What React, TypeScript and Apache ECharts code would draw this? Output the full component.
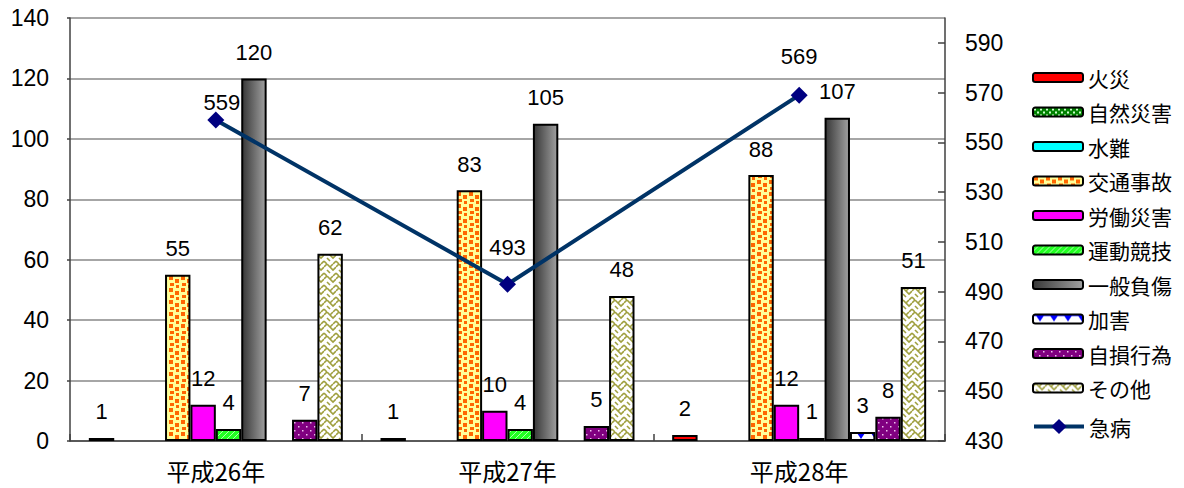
import React, { useEffect, useRef } from 'react';
import * as echarts from 'echarts';

// ---- data ----
const categories = ['平成26年', '平成27年', '平成28年'];
const kasai = [1, 1, 2];          // 火災
const shizen = [0, 0, 0];         // 自然災害
const suinan = [0, 0, 0];         // 水難
const koutsu = [55, 83, 88];      // 交通事故
const roudou = [12, 10, 12];      // 労働災害
const undou = [4, 4, 1];          // 運動競技
const ippan = [120, 105, 107];    // 一般負傷
const kagai = [0, 0, 3];          // 加害
const jison = [7, 5, 8];          // 自損行為
const sonota = [62, 48, 51];      // その他
const kyubyo = [559, 493, 569];   // 急病 (right axis)

const leftMin = 0;
const leftMax = 140;
const leftStep = 20;
const rightMin = 430;
const rightMax = 600;
const rightStep = 20;

const FONT = "'Liberation Sans', Arial, 'Noto Sans CJK JP', sans-serif";
const CJK = "'Noto Sans CJK JP', 'Liberation Sans', sans-serif";

function tile(w: number, h: number, draw: (ctx: CanvasRenderingContext2D) => void) {
  const c = document.createElement('canvas');
  c.width = w;
  c.height = h;
  const ctx = c.getContext('2d') as CanvasRenderingContext2D;
  draw(ctx);
  return { image: c, repeat: 'repeat', imageWidth: w, imageHeight: h } as any;
}

export default function App() {
  const ref = useRef<HTMLDivElement>(null);

  useEffect(() => {
    if (!ref.current) return;
    const chart = echarts.init(ref.current, undefined, { renderer: 'svg' });

    const confetti = tile(12, 12, (ctx) => {
      ctx.fillStyle = '#FFFF99';
      ctx.fillRect(0, 0, 12, 12);
      ctx.fillStyle = '#FF6600';
      ctx.fillRect(1, 0, 4, 4);
      ctx.fillRect(7, 3, 4, 4);
      ctx.fillRect(2, 7, 4, 3);
      ctx.fillRect(8, 9, 3, 3);
    });
    const checker = tile(6, 6, (ctx) => {
      ctx.fillStyle = '#008000';
      ctx.fillRect(0, 0, 6, 6);
      ctx.fillStyle = '#CCFFCC';
      ctx.fillRect(1, 1, 2, 2);
      ctx.fillRect(4, 4, 2, 2);
    });
    const stripes = tile(6, 6, (ctx) => {
      ctx.fillStyle = '#22FF22';
      ctx.fillRect(0, 0, 6, 6);
      ctx.strokeStyle = '#AAFFAA';
      ctx.lineWidth = 1;
      ctx.beginPath();
      ctx.moveTo(0, 6); ctx.lineTo(6, 0);
      ctx.moveTo(-3, 3); ctx.lineTo(3, -3);
      ctx.moveTo(3, 9); ctx.lineTo(9, 3);
      ctx.stroke();
    });
    const dots = tile(8, 8, (ctx) => {
      ctx.fillStyle = '#800080';
      ctx.fillRect(0, 0, 8, 8);
      ctx.fillStyle = '#F0C0F0';
      ctx.fillRect(2, 2, 1.5, 1.5);
      ctx.fillRect(6, 6, 1.5, 1.5);
    });
    const weave = tile(12, 12, (ctx) => {
      ctx.fillStyle = '#FFFFFF';
      ctx.fillRect(0, 0, 12, 12);
      ctx.strokeStyle = '#A0A040';
      ctx.lineWidth = 1.6;
      ctx.beginPath();
      ctx.moveTo(0, 3); ctx.lineTo(3, 0); ctx.lineTo(9, 6); ctx.lineTo(12, 3);
      ctx.moveTo(0, 9); ctx.lineTo(3, 12);
      ctx.moveTo(9, 12); ctx.lineTo(12, 9);
      ctx.moveTo(3, 6); ctx.lineTo(6, 9);
      ctx.moveTo(6, 3); ctx.lineTo(9, 0);
      ctx.stroke();
    });
    const scallop = tile(14, 9, (ctx) => {
      ctx.fillStyle = '#FFFFFF';
      ctx.fillRect(0, 0, 14, 9);
      ctx.fillStyle = '#0000FF';
      ctx.fillRect(0, 0, 14, 1.5);
      ctx.beginPath();
      ctx.moveTo(3, 1); ctx.lineTo(11, 1); ctx.lineTo(7, 7); ctx.closePath();
      ctx.fill();
    });
    const grayGrad = new echarts.graphic.LinearGradient(0, 0, 1, 0, [
      { offset: 0, color: '#383838' },
      { offset: 1, color: '#a0a0a0' },
    ]);

    const barDefs: { name: string; values: number[]; color: any }[] = [
      { name: '火災', values: kasai, color: '#FF0000' },
      { name: '自然災害', values: shizen, color: checker },
      { name: '水難', values: suinan, color: '#00FFFF' },
      { name: '交通事故', values: koutsu, color: confetti },
      { name: '労働災害', values: roudou, color: '#FF00FF' },
      { name: '運動競技', values: undou, color: stripes },
      { name: '一般負傷', values: ippan, color: grayGrad },
      { name: '加害', values: kagai, color: scallop },
      { name: '自損行為', values: jison, color: dots },
      { name: 'その他', values: sonota, color: weave },
    ];

    const barSeries = barDefs.map((d) => ({
      name: d.name,
      type: 'bar',
      yAxisIndex: 0,
      barWidth: 25.4,
      barGap: '0%',
      itemStyle: { color: d.color, borderColor: '#000000', borderWidth: 2 },
      label: {
        show: true,
        position: 'top',
        distance: 15,
        fontSize: 22,
        fontFamily: FONT,
        color: '#000000',
        formatter: (p: any) => (p.value === 0 ? '' : String(p.value)),
      },
      data: d.values.map((v) =>
        v === 0 ? { value: v, itemStyle: { borderWidth: 0 }, label: { show: false } } : v
      ),
    }));

    const lineLabelDistance = [-2, 17, 19];
    const lineLabelOffsetX = [6, 0, 0];

    const lineSeries = {
      name: '急病',
      type: 'line',
      yAxisIndex: 1,
      symbol: 'diamond',
      symbolSize: 17,
      lineStyle: { color: '#003366', width: 4 },
      itemStyle: { color: '#000080' },
      z: 5,
      label: {
        show: true,
        position: 'top',
        fontSize: 22,
        fontFamily: FONT,
        color: '#000000',
        formatter: (p: any) => String(kyubyo[p.dataIndex]),
      },
      data: kyubyo.map((v, i) => ({
        value: v - rightMin,
        label: { distance: lineLabelDistance[i], offset: [lineLabelOffsetX[i], 0] },
      })),
    };

    chart.setOption({
      animation: false,
      backgroundColor: '#FFFFFF',
      grid: {
        left: 70,
        right: 239,
        top: 18,
        bottom: 47,
        containLabel: false,
        outerBoundsMode: 'none',
      },
      legend: [
        {
          orient: 'vertical',
          left: 1027,
          top: 62,
          itemWidth: 50,
          itemHeight: 9,
          itemGap: 13.5,
          selectedMode: false,
          textStyle: { fontSize: 21, lineHeight: 21, fontFamily: CJK, color: '#000000' },
          data: barDefs.map((d) => d.name),
        },
        {
          orient: 'vertical',
          left: 1027,
          top: 411,
          itemWidth: 50,
          itemHeight: 19,
          selectedMode: false,
          lineStyle: { width: 4 },
          textStyle: { fontSize: 21, lineHeight: 21, fontFamily: CJK, color: '#000000' },
          data: ['急病'],
        },
      ],
      xAxis: {
        type: 'category',
        data: categories,
        boundaryGap: true,
        axisLine: { show: true, lineStyle: { color: '#404040', width: 1.5 } },
        axisTick: { show: true, inside: true, length: 7, lineStyle: { color: '#404040', width: 1.5 } },
        axisLabel: { fontSize: 24, fontFamily: CJK, color: '#000000', margin: 17 },
        splitLine: { show: false },
      },
      yAxis: [
        {
          type: 'value',
          min: leftMin,
          max: leftMax,
          interval: leftStep,
          position: 'left',
          axisLine: { show: true, lineStyle: { color: '#404040', width: 1.5 } },
          axisTick: { show: true, length: 3, lineStyle: { color: '#404040', width: 1.5 } },
          axisLabel: { fontSize: 23, fontFamily: FONT, color: '#000000', margin: 21 },
          splitLine: { show: true, lineStyle: { color: '#888888', width: 1.5 } },
        },
        {
          type: 'value',
          min: 0,
          max: rightMax - rightMin,
          interval: rightStep,
          position: 'right',
          axisLine: { show: true, lineStyle: { color: '#404040', width: 1.5 } },
          axisTick: { show: true, inside: true, length: 7, lineStyle: { color: '#404040', width: 1.5 } },
          axisLabel: {
            fontSize: 23,
            fontFamily: FONT,
            color: '#000000',
            margin: 20,
            showMaxLabel: false,
            formatter: (v: number) => String(v + rightMin),
          },
          splitLine: { show: false },
        },
      ],
      series: [...barSeries, lineSeries],
    } as any);

    return () => chart.dispose();
  }, []);

  return (
    <div
      ref={ref}
      style={{ position: 'absolute', left: 0, top: 0, width: 1184, height: 488, background: '#fff' }}
    />
  );
}
